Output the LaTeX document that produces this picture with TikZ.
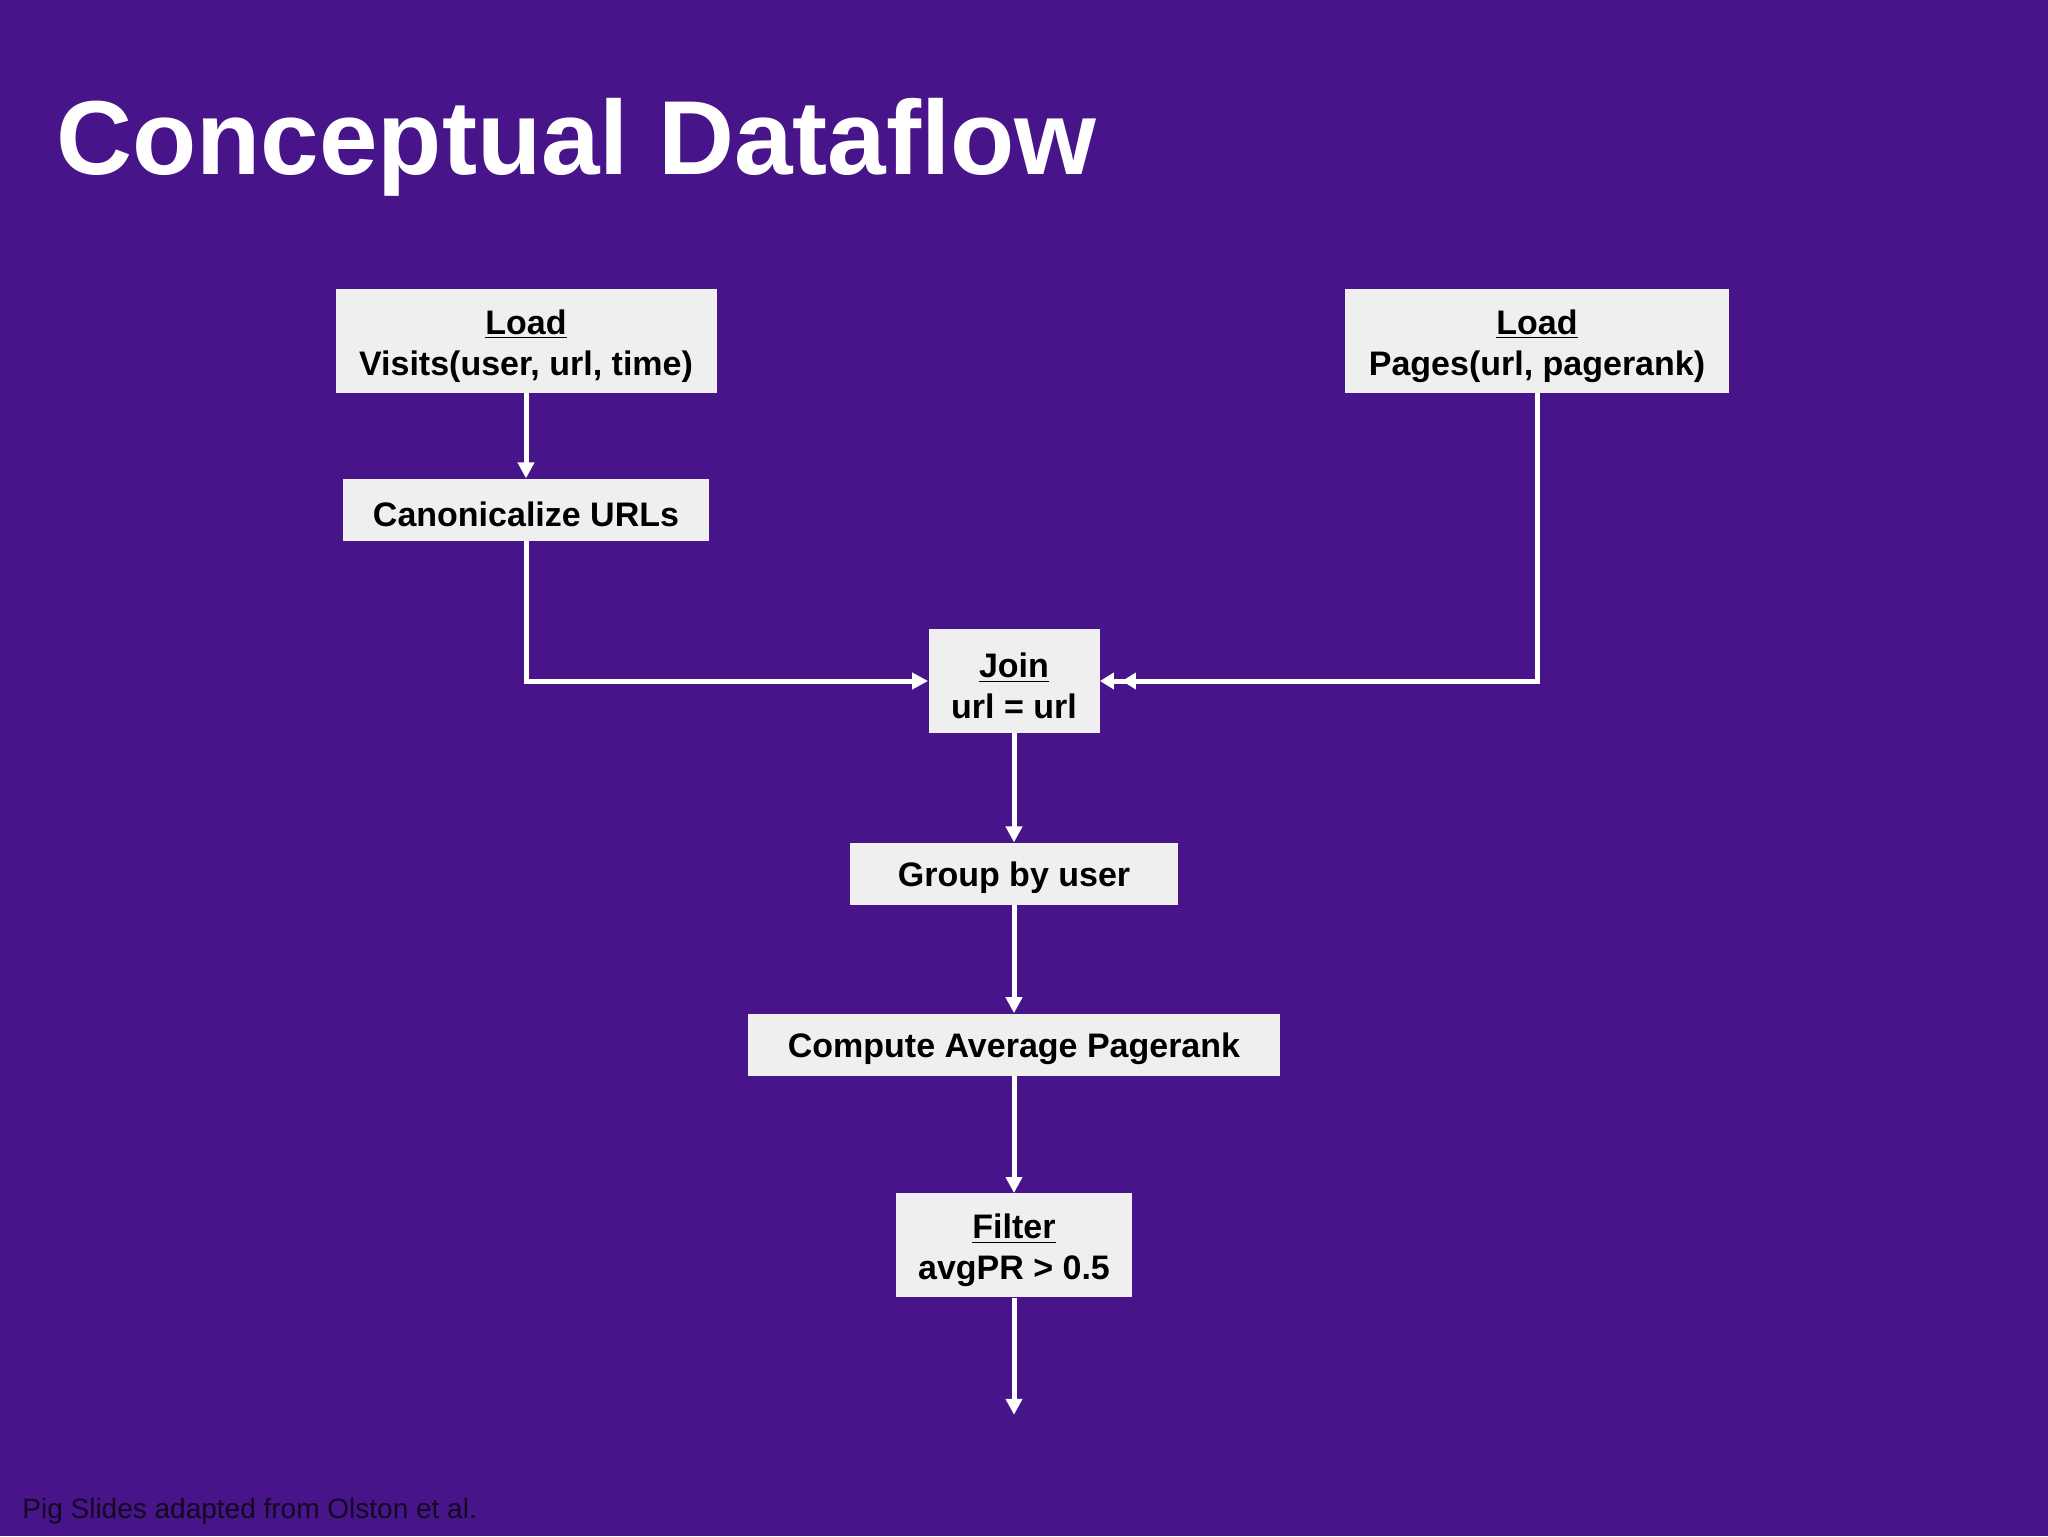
\documentclass[tikz,border=0pt]{standalone}
\usepackage{fontspec}
\setmainfont{Liberation Sans}
\usetikzlibrary{positioning, arrows.meta}
\definecolor{Slide}{RGB}{72,20,138}
\definecolor{BoxGray}{HTML}{EFEFEF}
\definecolor{Credit}{HTML}{140820}
\newcommand{\opname}[1]{\rule{0pt}{17.5pt}\underline{#1}}

\begin{document}
\begin{tikzpicture}[
    x=0.5pt, y=-0.5pt,
    stage/.style={fill=BoxGray, inner sep=0pt, minimum height=31pt, align=center, font=\fontsize{17}{20.5}\selectfont\bfseries, execute at begin node={\rule{0pt}{16.5pt}}},
    stagetwo/.style={stage, minimum height=52pt},
    arr/.style={-{Triangle[width=8pt, length=8pt]}, line width=2.5pt, draw=white},
    arrtwo/.style={-{Triangle[width=8pt, length=7pt, sep=4pt] Triangle[width=8pt, length=7pt]}, line width=2.5pt, draw=white}
]

% Slide background
\useasboundingbox (0,0) rectangle (2048,1536);
\fill[Slide] (0,0) rectangle (2048,1536);

\node[font=\fontsize{52.6}{58}\selectfont\bfseries, text=white, inner sep=0pt, anchor=base west] (title) at (56,174) {Conceptual Dataflow};

% Load steps
\node[stagetwo, minimum width=190.5pt] (visits) at (526,341) {\opname{Load}\\Visits(user, url, time)};
\node[stagetwo, minimum width=192pt] (pages) at (1537,341) {\opname{Load}\\Pages(url, pagerank)};
\node[stage, minimum width=183pt, below=42.5pt of visits] (canon) {Canonicalize URLs};

% Main column
\node[stagetwo, minimum width=85.5pt] (join) at (1014,681) {\opname{Join}\\url = url};
\node[stage, minimum width=164pt, below=54.5pt of join] (group) {Group by user};
\node[stage, minimum width=266pt, below=54pt of group] (avgpr) {Compute Average Pagerank};
\node[stagetwo, minimum width=118pt, below=58.5pt of avgpr] (filter) {\opname{Filter}\\avgPR > 0.5};
\coordinate[below=58.5pt of filter] (out);

\draw[arr] (visits) -- (canon);
\draw[arr] (canon.south) |- (join.west);
\draw[arrtwo] (pages.south) |- (join.east);
\draw[arr] (join) -- (group);
\draw[arr] (group) -- (avgpr);
\draw[arr] (avgpr) -- (filter);
\draw[arr] (filter) -- (out);

\node[font=\fontsize{14}{16}\selectfont, text=Credit, inner sep=0pt, anchor=base west] (credit) at (22,1518) {Pig Slides adapted from Olston et al.};

\end{tikzpicture}
\end{document}
